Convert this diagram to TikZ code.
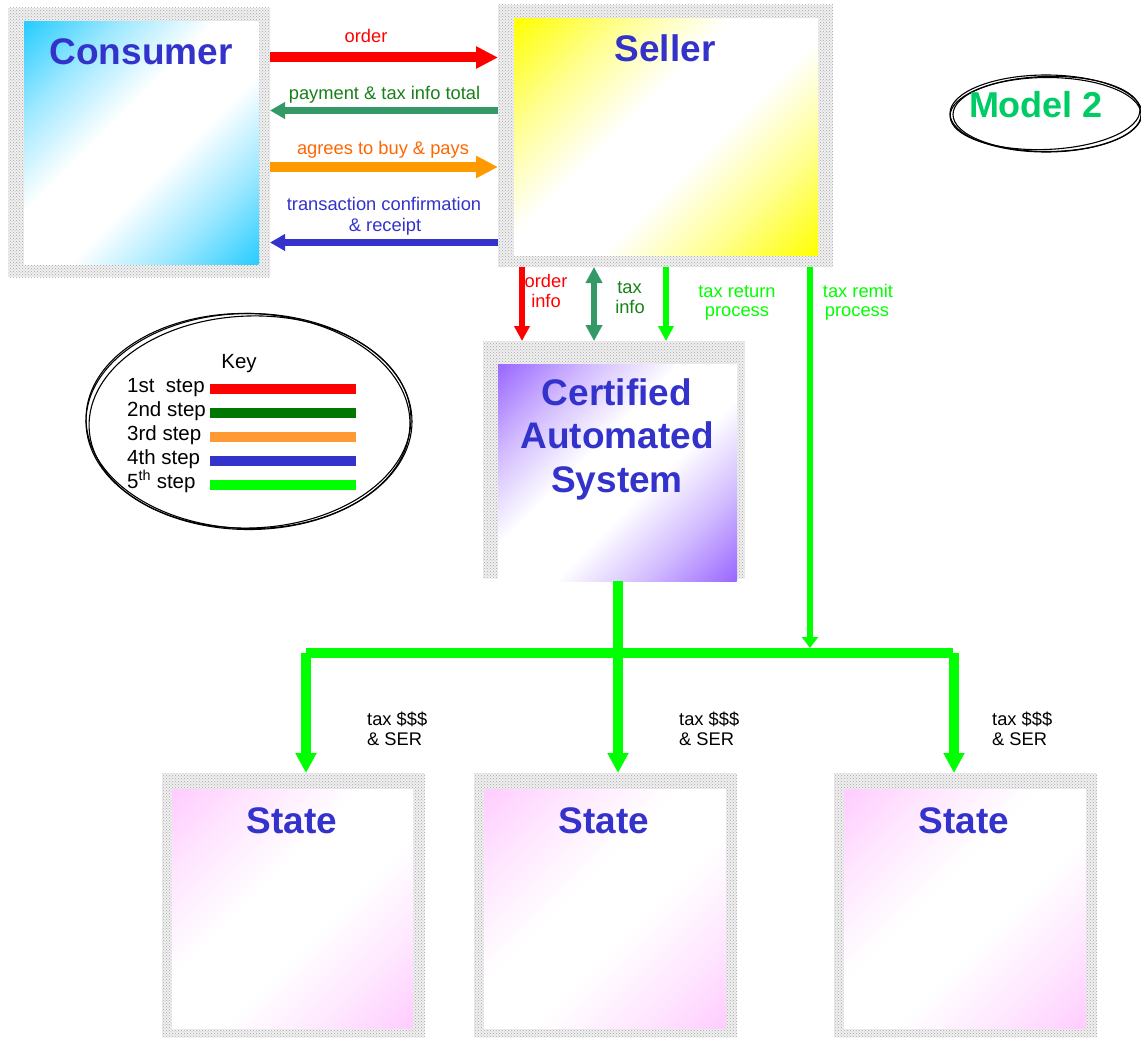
\documentclass[tikz,border=0pt]{standalone}
\usepackage{fontspec}
\setmainfont{Liberation Sans}
\usetikzlibrary{arrows.meta,patterns,shapes.geometric}
\definecolor{ttlblue}{RGB}{51,51,204}
\definecolor{cred}{RGB}{255,0,0}
\definecolor{csea}{RGB}{51,153,102}
\definecolor{cgreentxt}{RGB}{24,128,24}
\definecolor{corange}{RGB}{255,153,0}
\definecolor{corangetxt}{RGB}{255,102,0}
\definecolor{cblue}{RGB}{51,51,204}
\definecolor{cbright}{RGB}{0,255,0}
\definecolor{ckeygreen}{RGB}{0,119,0}
\definecolor{ckeyorange}{RGB}{255,153,51}
\definecolor{cmodel}{RGB}{0,204,102}
\definecolor{ccyan}{RGB}{38,204,255}
\definecolor{cyellow}{RGB}{255,255,0}
\definecolor{cpurple}{RGB}{153,102,255}
\definecolor{cpink}{RGB}{255,204,255}
\colorlet{diagc}{ccyan}
\colorlet{diagm}{ccyan!45!white}
\pgfdeclareverticalshading[diagc,diagm]{diagfade}{100bp}{%
  color(0bp)=(diagc); color(25bp)=(diagc); color(35bp)=(diagm);
  color(45bp)=(white); color(55bp)=(white); color(65bp)=(diagm);
  color(75bp)=(diagc); color(100bp)=(diagc)}
\newcommand\diagshade[5]{%
  \colorlet{diagc}{#1}\colorlet{diagm}{#1!45!white}%
  \pgfmathsetmacro\dcx{(#2+#4)/2}%
  \pgfmathsetmacro\dcy{(#3+#5)/2}%
  \pgfmathsetmacro\dhs{((#4-#2)+(#5-#3))/(2*sqrt(2))}%
  \begin{scope}
    \clip (#2,#3) rectangle (#4,#5);
    \begin{scope}[transform canvas={rotate around={45:(\dcx,\dcy)}}]
      \shade[shading=diagfade] (\dcx-\dhs,\dcy-\dhs) rectangle (\dcx+\dhs,\dcy+\dhs);
    \end{scope}
  \end{scope}}
\begin{document}
\begin{tikzpicture}[x=1pt,y=-1pt,
  frame/.style={inner sep=0pt,outer sep=0pt,preaction={fill=gray!12},pattern=crosshatch dots,pattern color=gray!70},
  inbox/.style={inner sep=0pt,outer sep=0pt},
  ttl/.style={font=\fontsize{37}{44}\selectfont\bfseries,text=ttlblue,anchor=base,inner sep=0pt},
  lbl/.style={font=\fontsize{18.3}{21}\selectfont,anchor=base,inner sep=0pt},
  lblw/.style={font=\fontsize{18.3}{21}\selectfont,anchor=base west,inner sep=0pt},
  keytxt/.style={font=\fontsize{20.5}{24}\selectfont,anchor=base west,inner sep=0pt},
  keybar/.style={line width=10pt},
  ring/.style={draw=black,line width=1.1pt},
  bigarrow/.style={line width=10pt,-{Triangle[length=22pt,width=21pt]}},
  smallarrow/.style={line width=7.5pt,-{Triangle[length=15pt,width=16pt]}},
  vertarrow/.style={line width=6pt,-{Triangle[length=15pt,width=15pt]}},
  busline/.style={line width=10pt,cbright},
  busarrow/.style={line width=10pt,cbright,-{Triangle[length=20pt,width=20pt]}}
]
\useasboundingbox (0,0) rectangle (1141,1038);

% ---------- boxes ----------
\node[frame,minimum width=262pt,minimum height=269pt] (cfr) at (139,142.5) {};
\diagshade{ccyan}{24}{22}{259}{264}
\node[inbox,minimum width=235pt,minimum height=242pt] (consumer) at (141.5,143) {};
\node[ttl] (consumerT) at (141,65) {Consumer};

\node[frame,minimum width=335pt,minimum height=262pt] (sfr) at (665.5,136) {};
\diagshade{cyellow}{514}{19}{818}{255}
\node[inbox,minimum width=304pt,minimum height=236pt] (seller) at (666,137) {};
\node[ttl] (sellerT) at (665,62) {Seller};

\node[frame,minimum width=262pt,minimum height=237pt] (afr) at (614,459.5) {};
\diagshade{cpurple}{498}{364}{737}{581}
\node[inbox,minimum width=239pt,minimum height=217pt] (cas) at (617.5,472.5) {};
\node[ttl] (casT1) at (617,405) {Certified};
\node[ttl] (casT2) at (617,448.5) {Automated};
\node[ttl] (casT3) at (617,492) {System};

\node[frame,minimum width=263pt,minimum height=264pt] (s1fr) at (293.5,905) {};
\diagshade{cpink}{172}{789}{413}{1028}
\node[inbox,minimum width=241pt,minimum height=239pt] (st1) at (292.5,908.5) {};
\node[ttl] (st1T) at (292,833) {State};

\node[frame,minimum width=263pt,minimum height=264pt] (s2fr) at (605.5,905) {};
\diagshade{cpink}{484}{789}{726}{1028}
\node[inbox,minimum width=242pt,minimum height=239pt] (st2) at (605,908.5) {};
\node[ttl] (st2T) at (604,833) {State};

\node[frame,minimum width=263pt,minimum height=264pt] (s3fr) at (965.5,905) {};
\diagshade{cpink}{844}{789}{1086}{1028}
\node[inbox,minimum width=242pt,minimum height=239pt] (st3) at (965,908.5) {};
\node[ttl] (st3T) at (964,833) {State};

% ---------- Model 2 ----------
\node[ellipse,ring,minimum width=192pt,minimum height=77pt,inner sep=0pt] (model) at (1046,113.5) {};
\draw[ring] (1047,114.5) ellipse [x radius=94pt,y radius=37pt];
\draw[ring,rotate around={2:(1045,113)}] (1045,113) ellipse [x radius=95pt,y radius=36.5pt];
\node[font=\fontsize{36}{42}\selectfont\bfseries,text=cmodel,anchor=base,inner sep=0pt] (modelT) at (1036,118) {Model 2};

% ---------- Key ----------
\node[ellipse,ring,minimum width=326pt,minimum height=216pt,inner sep=0pt] (key) at (249,421.5) {};
\draw[ring,rotate around={2:(250,422)}] (250,422) ellipse [x radius=161pt,y radius=106pt];
\draw[ring,rotate around={-1.5:(248,421)}] (248,421) ellipse [x radius=162pt,y radius=107.5pt];
\node[font=\fontsize{20.5}{24}\selectfont,anchor=base,inner sep=0pt] (keyT) at (239,368) {Key};
\node[keytxt] (k1) at (127,392) {1st\ \ step};
\node[keytxt] (k2) at (127,416) {2nd step};
\node[keytxt] (k3) at (127,440) {3rd step};
\node[keytxt] (k4) at (127,464) {4th step};
\node[keytxt] (k5) at (127,488) {5\textsuperscript{th} step};
\draw[keybar,cred] (210,389) -- (356,389);
\draw[keybar,ckeygreen] (210,413) -- (356,413);
\draw[keybar,ckeyorange] (210,437) -- (356,437);
\draw[keybar,cblue] (210,461) -- (356,461);
\draw[keybar,cbright] (210,485) -- (356,485);

% ---------- consumer <-> seller ----------
\draw[bigarrow,cred] (cfr.east |- 0,57.5) -- (sfr.west |- 0,57.5);
\node[lbl,text=cred] (lorder) at (366,43) {order};
\draw[smallarrow,csea] (sfr.west |- 0,110.5) -- (cfr.east |- 0,110.5);
\node[lbl,text=cgreentxt] (lpay) at (384.5,100) {payment \& tax info total};
\draw[bigarrow,corange] (cfr.east |- 0,167) -- (sfr.west |- 0,167);
\node[lbl,text=corangetxt] (lagree) at (383,155) {agrees to buy \& pays};
\draw[smallarrow,cblue] (sfr.west |- 0,242.5) -- (cfr.east |- 0,242.5);
\node[lbl,text=cblue] (ltrans1) at (384,210) {transaction confirmation};
\node[lbl,text=cblue] (ltrans2) at (385,231) {\& receipt};

% ---------- seller -> CAS ----------
\draw[vertarrow,cred] (sfr.south -| 522,0) -- (afr.north -| 522,0);
\node[lbl,text=cred] (lord1) at (546,287) {order};
\node[lbl,text=cred] (lord2) at (546,307) {info};
\draw[line width=6pt,csea,{Triangle[length=16pt,width=16pt]}-{Triangle[length=16pt,width=16pt]}] (sfr.south -| 594,0) -- (afr.north -| 594,0);
\node[lbl,text=cgreentxt] (ltax1) at (629.5,293) {tax};
\node[lbl,text=cgreentxt] (ltax2) at (630,313) {info};
\draw[vertarrow,cbright] (sfr.south -| 666,0) -- (afr.north -| 666,0);
\node[lbl,text=cbright] (lret1) at (737,297) {tax return};
\node[lbl,text=cbright] (lret2) at (737,316) {process};
\node[lbl,text=cbright] (lrem1) at (858,297) {tax remit};
\node[lbl,text=cbright] (lrem2) at (857,316) {process};

% ---------- bus to states ----------
\coordinate (remitend) at (810,648);
\draw[line width=6pt,cbright,-{Triangle[length=11pt,width=16pt]}] (sfr.south -| 810,0) -- (remitend);
\coordinate (busL) at (306,653);
\coordinate (busR) at (953,653);
\coordinate (busRv) at (954,653);
\draw[busline] (busL) -- (busR);
\draw[busarrow] (busL) -- (busL |- s1fr.north);
\draw[busarrow] (cas.south -| 618,0) -- (s2fr.north -| 618,0);
\draw[busarrow] (busRv) -- (busRv |- s3fr.north);
\node[lblw] (ts1a) at (367,725) {tax \$\$\$};
\node[lblw] (ts1b) at (367,745) {\& SER};
\node[lblw] (ts2a) at (679,725) {tax \$\$\$};
\node[lblw] (ts2b) at (679,745) {\& SER};
\node[lblw] (ts3a) at (992,725) {tax \$\$\$};
\node[lblw] (ts3b) at (992,745) {\& SER};
\end{tikzpicture}
\end{document}
